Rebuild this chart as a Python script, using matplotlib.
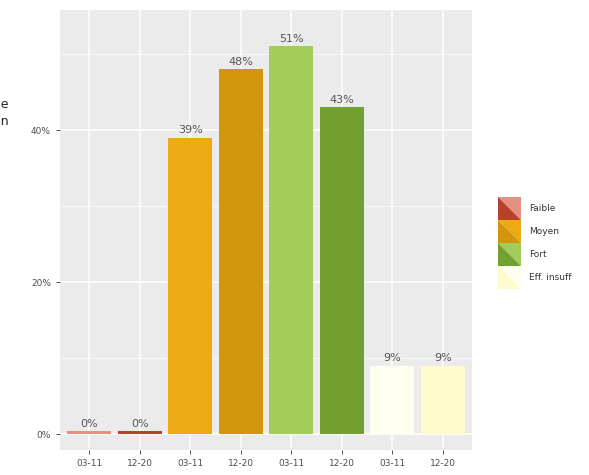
import numpy as np
import matplotlib.pyplot as plt
from matplotlib.patches import Polygon

# niveaux et périodes
niveaux = ["Faible", "Moyen", "Fort", "Eff. insuff"]
periodes = ["03-11", "12-20"]
parts = [0.004, 0.004, 0.39, 0.48, 0.51, 0.43, 0.09, 0.09]
etiquettes = ["0%", "0%", "39%", "48%", "51%", "43%", "9%", "9%"]
couleurs = [
    ("#e49182", "#b8412b"),  # Faible
    ("#ecab14", "#d3950b"),  # Moyen
    ("#a3cd5b", "#72a031"),  # Fort
    ("#fffff0", "#fffbcc"),  # Eff. insuff
]

fig = plt.figure(figsize=(5.89, 4.75), dpi=100)
ax = fig.add_axes([60 / 589, 25 / 475, 412 / 589, 440 / 475])
ax.set_facecolor("#ebebeb")

x = np.arange(1, len(parts) + 1)
cols = [c for paire in couleurs for c in paire]
ax.bar(x, parts, width=0.88, color=cols, zorder=3)
for xi, v, lab in zip(x, parts, etiquettes):
    ax.text(xi, v + 0.003, lab, ha="center", va="bottom",
            fontsize=8, color="#555555", zorder=4)

ax.set_xlim(0.42, 8.58)
ax.set_ylim(-0.021, 0.558)
ax.set_xticks(x)
ax.set_xticklabels(periodes * len(niveaux))
ax.set_yticks([0, 0.2, 0.4])
ax.set_yticklabels(["0%", "20%", "40%"])
ax.set_yticks([0.1, 0.3, 0.5], minor=True)
ax.grid(True, which="major", color="white", linewidth=1.1, zorder=0)
ax.grid(True, which="minor", axis="y", color="white", linewidth=0.5, zorder=0)
ax.tick_params(axis="both", which="major", labelsize=6.5, colors="#333333",
               labelcolor="#4d4d4d", length=3, width=0.6)
ax.tick_params(axis="y", which="minor", length=0)
for s in ax.spines.values():
    s.set_visible(False)

# légende à clés bicolores
fig_w, fig_h = 589, 475
leg = fig.add_axes([0, 0, 1, 1], facecolor="none")
leg.set_xlim(0, fig_w)
leg.set_ylim(fig_h, 0)
leg.axis("off")
k = 23
x0, y0 = 498, 197
for i, (nom, (clair, fonce)) in enumerate(zip(niveaux, couleurs)):
    yt = y0 + i * k
    leg.add_patch(Polygon([(x0, yt), (x0 + k, yt), (x0 + k, yt + k)],
                          closed=True, color=clair, lw=0))
    leg.add_patch(Polygon([(x0, yt), (x0, yt + k), (x0 + k, yt + k)],
                          closed=True, color=fonce, lw=0))
    leg.text(x0 + k + 8, yt + k / 2, nom, va="center", ha="left",
             fontsize=6.5, color="#333333")

fig.text(9 / 589, 1 - 113 / 475, "Part de\nla population", ha="right", va="center",
         fontsize=9, color="#222222", linespacing=1.3)

fig.savefig("out.png", dpi=100)
